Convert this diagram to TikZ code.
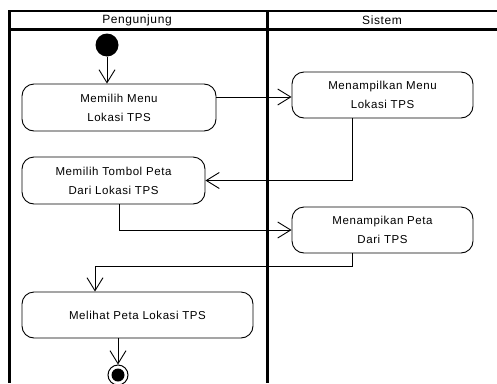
\documentclass[tikz,border=0pt]{standalone}
\usepackage{fontspec}
\setmainfont{Liberation Sans}[LetterSpace=5]
\usetikzlibrary{arrows.meta,calc}
\tikzset{
  act/.style={draw=black, line width=0.9pt, rounded corners=12pt, align=center,
    inner sep=0pt, font=\fontsize{11.5}{19}\selectfont},
  arr/.style={line width=0.9pt, -{Straight Barb[length=13pt,width=16pt,line width=0.9pt]}},
  lane/.style={line width=3pt},
  lbl/.style={font=\fontsize{12}{13}\selectfont, inner sep=0pt}
}
\begin{document}
\begin{tikzpicture}[x=1pt,y=-1pt]
\useasboundingbox (0,0) rectangle (497,383);
\clip (0,0) rectangle (497,383);
% swimlanes
\draw[line width=2pt] (8,11) -- (497,11);
\draw[lane] (8,29) -- (497,29);
\draw[lane] (9.5,10) -- (9.5,383);
\draw[lane] (267,10) -- (267,383);
\node[lbl] (h1) at (137,20) {Pengunjung};
\node[lbl] (h2) at (382,20) {Sistem};
% nodes
\node[circle, fill=black, minimum size=23pt, inner sep=0pt] (start) at (107,45) {};
\node[act, minimum width=194pt, minimum height=47pt] (n1) at (119,107.5) {Memilih Menu\\Lokasi TPS};
\node[act, minimum width=181pt, minimum height=46pt] (n2) at (382.5,95) {Menampilkan Menu\\Lokasi TPS};
\node[act, minimum width=183pt, minimum height=47pt] (n3) at (113.5,180.5) {Memilih Tombol Peta\\Dari Lokasi TPS};
\node[act, minimum width=181pt, minimum height=46pt] (n4) at (382.5,230) {Menampikan Peta\\Dari TPS};
\node[act, minimum width=231pt, minimum height=46pt] (n5) at (137.5,315) {Melihat Peta Lokasi TPS};
\node[circle, draw=black, line width=1pt, minimum size=20pt, inner sep=0pt] (fin) at (118,375) {};
\node[circle, fill=black, minimum size=13pt, inner sep=0pt] (finin) at (fin.center) {};
% helper coordinates
\coordinate (y97) at (0,97);
\coordinate (x352) at (352,0);
\coordinate (x119) at (119,0);
\coordinate (x95) at (95,0);
\coordinate (bend) at (352,266);
% connectors
\draw[arr] (start) -- (n1.north -| start);
\draw[arr] (n1.east |- y97) -- (n2.west |- y97);
\draw[arr] (n2.south -| x352) |- (n3.east);
\draw[arr] (n3.south -| x119) |- (n4.west);
\draw[arr] (n4.south -| x352) -- (bend) -| (n5.north -| x95);
\draw[arr] (n5.south -| fin) -- (fin.north);
\end{tikzpicture}
\end{document}
